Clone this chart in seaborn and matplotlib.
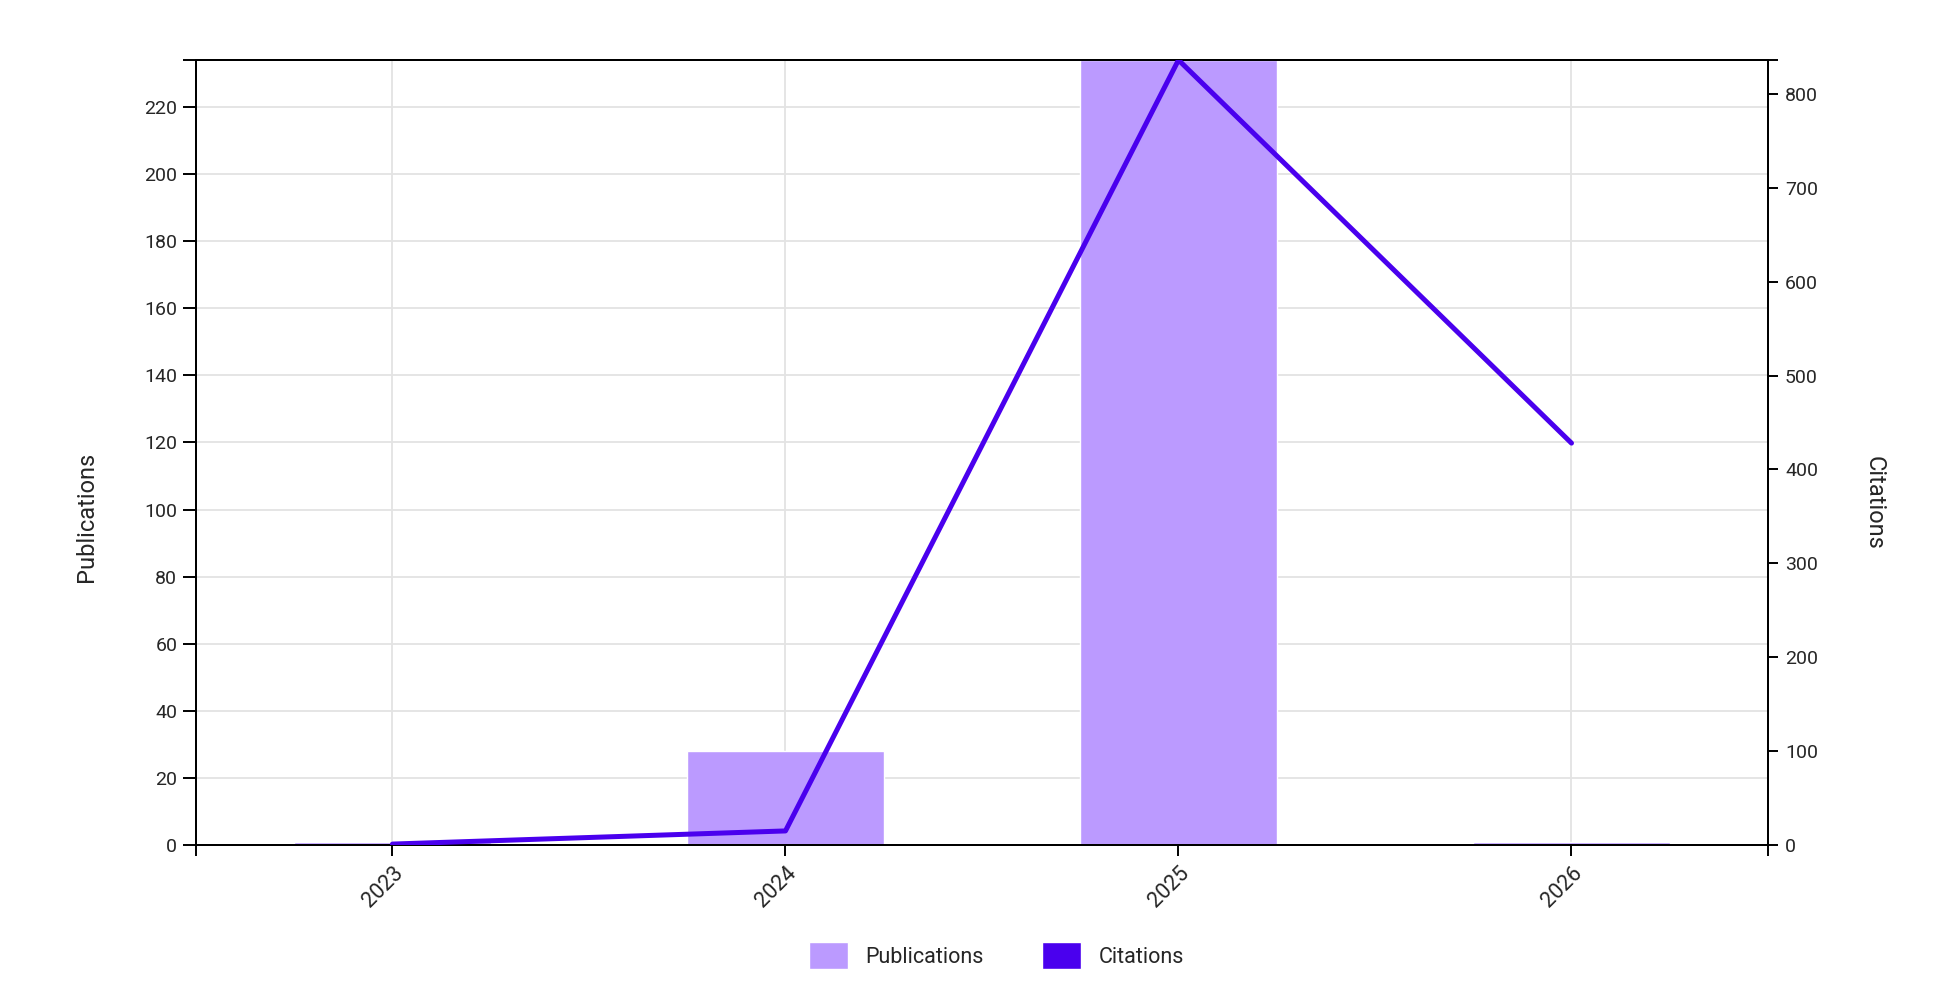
import numpy as np
import pandas as pd
import matplotlib
matplotlib.use("Agg")
import matplotlib.pyplot as plt
from matplotlib.patches import Patch
from matplotlib.ticker import FixedLocator
import seaborn as sns

# ── data ──────────────────────────────────────────────────────────────────
years        = ["2023", "2024", "2025", "2026"]
publications = [1, 28, 234, 1]
citations    = [1, 15, 836, 428]

pub_ticks  = list(range(0, 221, 20))
cite_ticks = list(range(0, 801, 100))

BAR_COLOR  = "#BB9AFF"
LINE_COLOR = "#4A00EE"
GRID_COLOR = "#E3E3E3"

sns.set_style("white")
plt.rcParams["font.family"] = ["Roboto", "DejaVu Sans"]

df = pd.DataFrame({"year": years, "pubs": publications, "cites": citations})

fig = plt.figure(figsize=(19.42, 9.82), dpi=100)
ax1 = fig.add_axes([0.1009, 0.1395, 0.8095, 0.7994])

sns.barplot(data=df, x="year", y="pubs", ax=ax1, color=BAR_COLOR,
            width=0.5, saturation=1, zorder=2)

ax2 = ax1.twinx()
sns.pointplot(data=df, x="year", y="cites", ax=ax2, color=LINE_COLOR,
              markers="", linewidth=3.6, zorder=3)

# ── axes limits / ticks ───────────────────────────────────────────────────
for ax in (ax1, ax2):
    ax.set_xlim(-0.5, 3.5)
ax1.set_ylim(0, max(publications))
ax2.set_ylim(0, max(citations))

ax1.set_yticks(pub_ticks)
ax2.set_yticks(cite_ticks)
ax1.yaxis.set_minor_locator(FixedLocator([max(publications)]))
ax2.yaxis.set_minor_locator(FixedLocator([max(citations)]))
ax1.xaxis.set_minor_locator(FixedLocator([-0.5, 3.5]))

ax1.set_xticks(range(len(years)))
ax1.set_xticklabels(years, rotation=45, ha="right", rotation_mode="anchor")

ax1.tick_params(axis="y", which="both", direction="out", length=9.4,
                width=1.4, color="black", labelsize=14, pad=4, left=True)
ax1.tick_params(axis="x", which="both", direction="out", length=8,
                width=1.4, color="black", labelsize=15.5, pad=5, bottom=True)
ax2.tick_params(axis="y", which="both", direction="out", length=7.2,
                width=1.4, color="black", labelsize=14, pad=5, right=True)
ax2.tick_params(axis="x", which="both", bottom=False, labelbottom=False)

# grid on the bar axis, under the bars
ax1.set_axisbelow(True)
ax1.grid(True, which="major", color=GRID_COLOR, linewidth=1.3)
ax2.grid(False)

for ax in (ax1, ax2):
    for s in ax.spines.values():
        s.set_visible(True)
        s.set_color("black")
        s.set_linewidth(1.4)

# axis titles sit a little below the vertical middle, like the original
ax1.set_xlabel("")
ax1.set_ylabel("Publications", fontsize=17, rotation=90, rotation_mode="anchor",
               ha="center", va="center")
ax2.set_ylabel("Citations", fontsize=17, rotation=270, rotation_mode="anchor",
               ha="center", va="center")
ax1.yaxis.set_label_coords(-0.0695, 0.4185)
ax2.yaxis.set_label_coords(1.0674, 0.436)

# ── legend ────────────────────────────────────────────────────────────────
handles = [Patch(facecolor=BAR_COLOR, label="Publications"),
           Patch(facecolor=LINE_COLOR, label="Citations")]
fig.legend(handles=handles, loc="center", bbox_to_anchor=(0.513, 0.027),
           ncol=2, frameon=False, fontsize=15.5, handlelength=1.8,
           handleheight=1.6, handletextpad=0.8, columnspacing=2.75)

fig.savefig("out.png", dpi=100)
